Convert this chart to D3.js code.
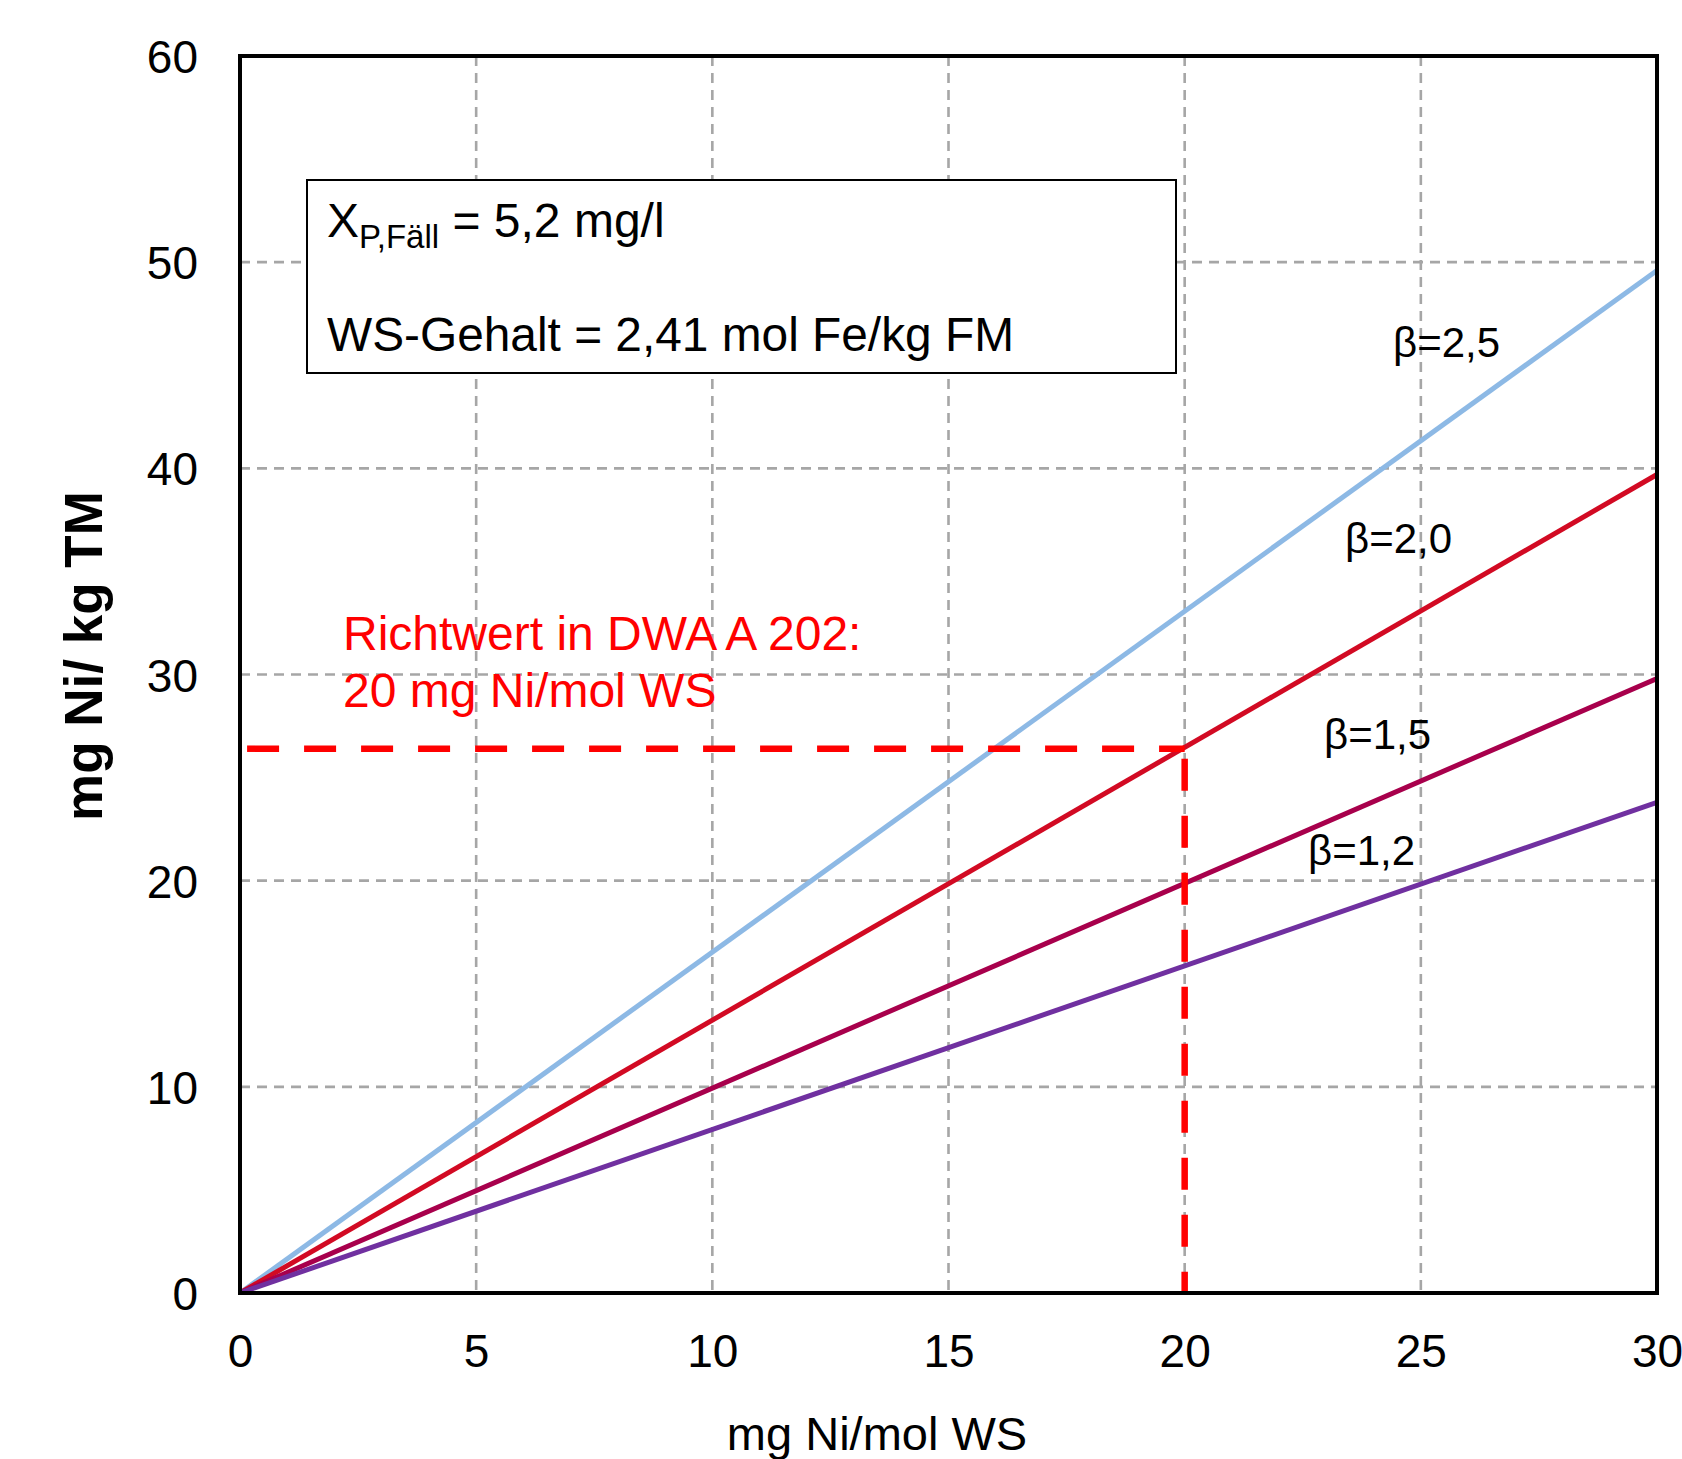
<!DOCTYPE html>
<html>
<head>
<meta charset="utf-8">
<script src="https://cdn.jsdelivr.net/npm/d3@7"></script>
<style>
  html, body { margin: 0; padding: 0; background: #fff; }
  svg { display: block; font-family: "Liberation Sans", Arial, sans-serif; }
</style>
</head>
<body>
<svg id="chart" width="1682" height="1459"></svg>
<script>
// ---- data ----
const xTicks = [0, 5, 10, 15, 20, 25, 30];
const yTicks = [0, 10, 20, 30, 40, 50, 60];
const seriesNames = ["β=2,5", "β=2,0", "β=1,5", "β=1,2"];
const seriesX = [0, 30];
const seriesB25 = [0, 49.6];
const seriesB20 = [0, 39.7];
const seriesB15 = [0, 29.8];
const seriesB12 = [0, 23.8];
const richtwertX = 20;
const richtwertY = 26.4;
const richtwertStartX = 0.15;
const xTitle = "mg Ni/mol WS";
const yTitle = "mg Ni/ kg TM";
const richtText = ["Richtwert in DWA A 202:", "20 mg Ni/mol WS"];

// ---- layout ----
const svg = d3.select("#chart");
const L = 240, R = 1657, T = 56, B = 1293;
const x = d3.scaleLinear().domain([0, 30]).range([L, R]);
const y = d3.scaleLinear().domain([0, 60]).range([B, T]);

const colors = ["#8DB9E5", "#D20A23", "#A8004C", "#7030A0"];
const seriesVals = [seriesB25, seriesB20, seriesB15, seriesB12];
const labelPos = [[1393, 357], [1345, 553], [1324, 749], [1308, 865]];

// gridlines
const grid = svg.append("g");
grid.selectAll("line.v").data(xTicks.filter(d => d > 0 && d < 30)).join("line")
  .attr("x1", d => x(d)).attr("x2", d => x(d)).attr("y1", T).attr("y2", B)
  .attr("stroke", "#a6a6a6").attr("stroke-width", 2.6).attr("stroke-dasharray", "10,7");
grid.selectAll("line.h").data(yTicks.filter(d => d > 0 && d < 60)).join("line")
  .attr("y1", d => y(d)).attr("y2", d => y(d)).attr("x1", L).attr("x2", R)
  .attr("stroke", "#a6a6a6").attr("stroke-width", 2.6).attr("stroke-dasharray", "10,7");

// info box
const box = svg.append("g");
box.append("rect").attr("x", 307).attr("y", 180).attr("width", 869).attr("height", 193)
  .attr("fill", "#fff").attr("stroke", "#000").attr("stroke-width", 2);
const t1 = box.append("text").attr("x", 327).attr("y", 237).attr("font-size", 48).attr("fill", "#000");
t1.append("tspan").text("X");
t1.append("tspan").attr("font-size", 33).attr("dy", 11).text("P,Fäll");
t1.append("tspan").attr("dy", -11).text(" = 5,2 mg/l");
box.append("text").attr("x", 327).attr("y", 351).attr("font-size", 48).attr("fill", "#000")
  .attr("textLength", 687).attr("lengthAdjust", "spacingAndGlyphs")
  .text("WS-Gehalt = 2,41 mol Fe/kg FM");

// series lines
svg.append("clipPath").attr("id", "clip").append("rect")
  .attr("x", L).attr("y", T).attr("width", R - L).attr("height", B - T);
const line = d3.line().x(d => x(d[0])).y(d => y(d[1]));
const lines = svg.append("g").attr("clip-path", "url(#clip)");
seriesVals.forEach((vals, i) => {
  lines.append("path").datum(seriesX.map((xv, j) => [xv, vals[j]]))
    .attr("d", line).attr("fill", "none").attr("stroke", colors[i]).attr("stroke-width", 5);
});

// Richtwert dashed lines
svg.append("path").datum([[richtwertStartX, richtwertY], [richtwertX, richtwertY]])
  .attr("d", line).attr("fill", "none").attr("stroke", "#ff0000").attr("stroke-width", 6.5)
  .attr("stroke-dasharray", "32,25");
svg.append("path").datum([[richtwertX, richtwertY], [richtwertX, 0]])
  .attr("d", line).attr("fill", "none").attr("stroke", "#ff0000").attr("stroke-width", 6.5)
  .attr("stroke-dasharray", "32,25").attr("stroke-dashoffset", -10);

// frame
svg.append("rect").attr("x", L).attr("y", T).attr("width", R - L).attr("height", B - T)
  .attr("fill", "none").attr("stroke", "#000").attr("stroke-width", 4);

// series labels
seriesNames.forEach((n, i) => {
  svg.append("text").attr("x", labelPos[i][0]).attr("y", labelPos[i][1])
    .attr("font-size", 42).attr("fill", "#000").text(n);
});

// Richtwert text
svg.append("text").attr("x", 343).attr("y", 650).attr("font-size", 48).attr("fill", "#ff0000").text(richtText[0]);
svg.append("text").attr("x", 343).attr("y", 707).attr("font-size", 48).attr("fill", "#ff0000").text(richtText[1]);

// axes (labels only)
const xAxis = d3.axisBottom(x).tickValues(xTicks).tickSize(0).tickPadding(0).tickFormat(d3.format("d"));
const gx = svg.append("g").attr("transform", `translate(0,${B})`).call(xAxis);
gx.select(".domain").remove();
gx.selectAll("text").attr("font-size", 46).attr("font-family", "Liberation Sans, Arial, sans-serif")
  .attr("fill", "#000").attr("dy", null).attr("y", 74);

const yAxis = d3.axisLeft(y).tickValues(yTicks).tickSize(0).tickPadding(0).tickFormat(d3.format("d"));
const gy = svg.append("g").attr("transform", `translate(198,0)`).call(yAxis);
gy.select(".domain").remove();
gy.selectAll("text").attr("font-size", 46).attr("font-family", "Liberation Sans, Arial, sans-serif")
  .attr("fill", "#000").attr("x", 0).attr("dy", "0.36em");

// axis titles
svg.append("text").attr("x", 877).attr("y", 1450).attr("text-anchor", "middle")
  .attr("font-size", 47).attr("fill", "#000").text(xTitle);
svg.append("text").attr("transform", "translate(102,656) rotate(-90)").attr("text-anchor", "middle")
  .attr("font-size", 53).attr("font-weight", "bold").attr("fill", "#000").text(yTitle);
</script>
</body>
</html>
